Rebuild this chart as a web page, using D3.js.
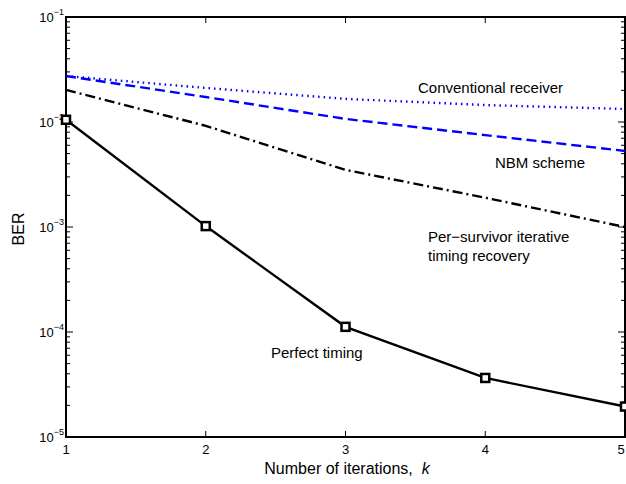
<!DOCTYPE html>
<html>
<head>
<meta charset="utf-8">
<script src="https://cdn.jsdelivr.net/npm/d3@7"></script>
<style>
body { margin: 0; background: #fff; }
text { font-family: "Liberation Sans", Arial, sans-serif; fill: #000; }
</style>
</head>
<body>
<script>
// iterations on the x axis
var iterations = [1, 2, 3, 4, 5];
// BER values
var perfectTiming = [1.05e-2, 1.02e-3, 1.12e-4, 3.65e-5, 1.95e-5];
var perSurvivor = [2.02e-2, 9.2e-3, 3.5e-3, 1.9e-3, 1.0e-3];
var nbmScheme = [2.74e-2, 1.73e-2, 1.07e-2, 7.5e-3, 5.3e-3];
var conventional = [2.74e-2, 2.11e-2, 1.66e-2, 1.45e-2, 1.33e-2];
var yTickExps = [-1, -2, -3, -4, -5];

var width = 626, height = 484;
var plotLeft = 66, plotRight = 625, plotTop = 17, plotBottom = 437;

var svg = d3.select("body").append("svg")
    .attr("width", width)
    .attr("height", height);

var x = d3.scaleLinear().domain([1, 5]).range([plotLeft, plotRight]);
var y = d3.scaleLog().domain([1e-5, 1e-1]).range([plotBottom, plotTop]);

// minor ticks (log) on left and right, inside
var minors = [];
yTickExps.forEach(function (e) {
    if (e === -1) return;
    for (var m = 2; m <= 9; m++) minors.push(m * Math.pow(10, e));
});
var tickG = svg.append("g").attr("stroke", "#000").attr("stroke-width", 1);
minors.forEach(function (v) {
    tickG.append("line").attr("x1", plotLeft).attr("x2", plotLeft + 4).attr("y1", y(v)).attr("y2", y(v));
    tickG.append("line").attr("x1", plotRight).attr("x2", plotRight - 4).attr("y1", y(v)).attr("y2", y(v));
});
yTickExps.forEach(function (e) {
    var v = Math.pow(10, e);
    tickG.append("line").attr("x1", plotLeft).attr("x2", plotLeft + 7).attr("y1", y(v)).attr("y2", y(v));
    tickG.append("line").attr("x1", plotRight).attr("x2", plotRight - 7).attr("y1", y(v)).attr("y2", y(v));
});
iterations.forEach(function (k) {
    tickG.append("line").attr("x1", x(k)).attr("x2", x(k)).attr("y1", plotBottom).attr("y2", plotBottom - 6);
    tickG.append("line").attr("x1", x(k)).attr("x2", x(k)).attr("y1", plotTop).attr("y2", plotTop + 6);
});

// frame
svg.append("rect")
    .attr("x", plotLeft).attr("y", plotTop)
    .attr("width", plotRight - plotLeft).attr("height", plotBottom - plotTop)
    .attr("fill", "none").attr("stroke", "#000").attr("stroke-width", 2);

// tick labels
svg.append("g").selectAll("text")
    .data(iterations)
    .enter().append("text")
    .attr("x", function (d) { return Math.min(x(d), width - 5); })
    .attr("y", plotBottom + 17)
    .attr("text-anchor", "middle")
    .attr("font-size", 13)
    .text(function (d) { return d; });

var yl = svg.append("g").selectAll("text")
    .data(yTickExps)
    .enter().append("text")
    .attr("x", plotLeft - 2)
    .attr("y", function (d) { return y(Math.pow(10, d)) + 5; })
    .attr("text-anchor", "end")
    .attr("font-size", 13);
yl.append("tspan").text("10");
yl.append("tspan").attr("dy", -7).attr("font-size", 9).text(function (d) { return "\u2212" + (-d); });

// axis titles
svg.append("text")
    .attr("transform", "translate(24," + 229 + ") rotate(-90)")
    .attr("text-anchor", "middle")
    .attr("font-size", 16)
    .text("BER");
var xt = svg.append("text")
    .attr("x", 347)
    .attr("y", 474)
    .attr("text-anchor", "middle")
    .attr("font-size", 16);
xt.append("tspan").text("Number of iterations,\u00a0\u00a0");
xt.append("tspan").attr("font-style", "italic").text("k");

var line = d3.line()
    .x(function (d, i) { return x(iterations[i]); })
    .y(function (d) { return y(d); });

var series = [
    { values: conventional, color: "#0000ff", dash: "1.5,4" },
    { values: nbmScheme, color: "#0000ff", dash: "10,5" },
    { values: perSurvivor, color: "#000", dash: "10,4,2,4" },
    { values: perfectTiming, color: "#000", dash: null }
];
svg.append("g").selectAll("path")
    .data(series)
    .enter().append("path")
    .attr("d", function (d) { return line(d.values); })
    .attr("fill", "none")
    .attr("stroke", function (d) { return d.color; })
    .attr("stroke-width", 2.4)
    .attr("stroke-dasharray", function (d) { return d.dash; });

svg.append("g").selectAll("rect")
    .data(perfectTiming)
    .enter().append("rect")
    .attr("x", function (d, i) { return x(iterations[i]) - 4; })
    .attr("y", function (d) { return y(d) - 4; })
    .attr("width", 8).attr("height", 8)
    .attr("fill", "#fff")
    .attr("stroke", "#000")
    .attr("stroke-width", 2.5);

// curve labels
var labels = [
    { text: "Conventional receiver", x: 418, y: 93 },
    { text: "NBM scheme", x: 495, y: 168 },
    { text: "Per\u2212survivor iterative", x: 428, y: 242 },
    { text: "timing recovery", x: 428, y: 261 },
    { text: "Perfect timing", x: 271, y: 358 }
];
svg.append("g").selectAll("text")
    .data(labels)
    .enter().append("text")
    .attr("x", function (d) { return d.x; })
    .attr("y", function (d) { return d.y; })
    .attr("font-size", 15)
    .text(function (d) { return d.text; });
</script>
</body>
</html>
